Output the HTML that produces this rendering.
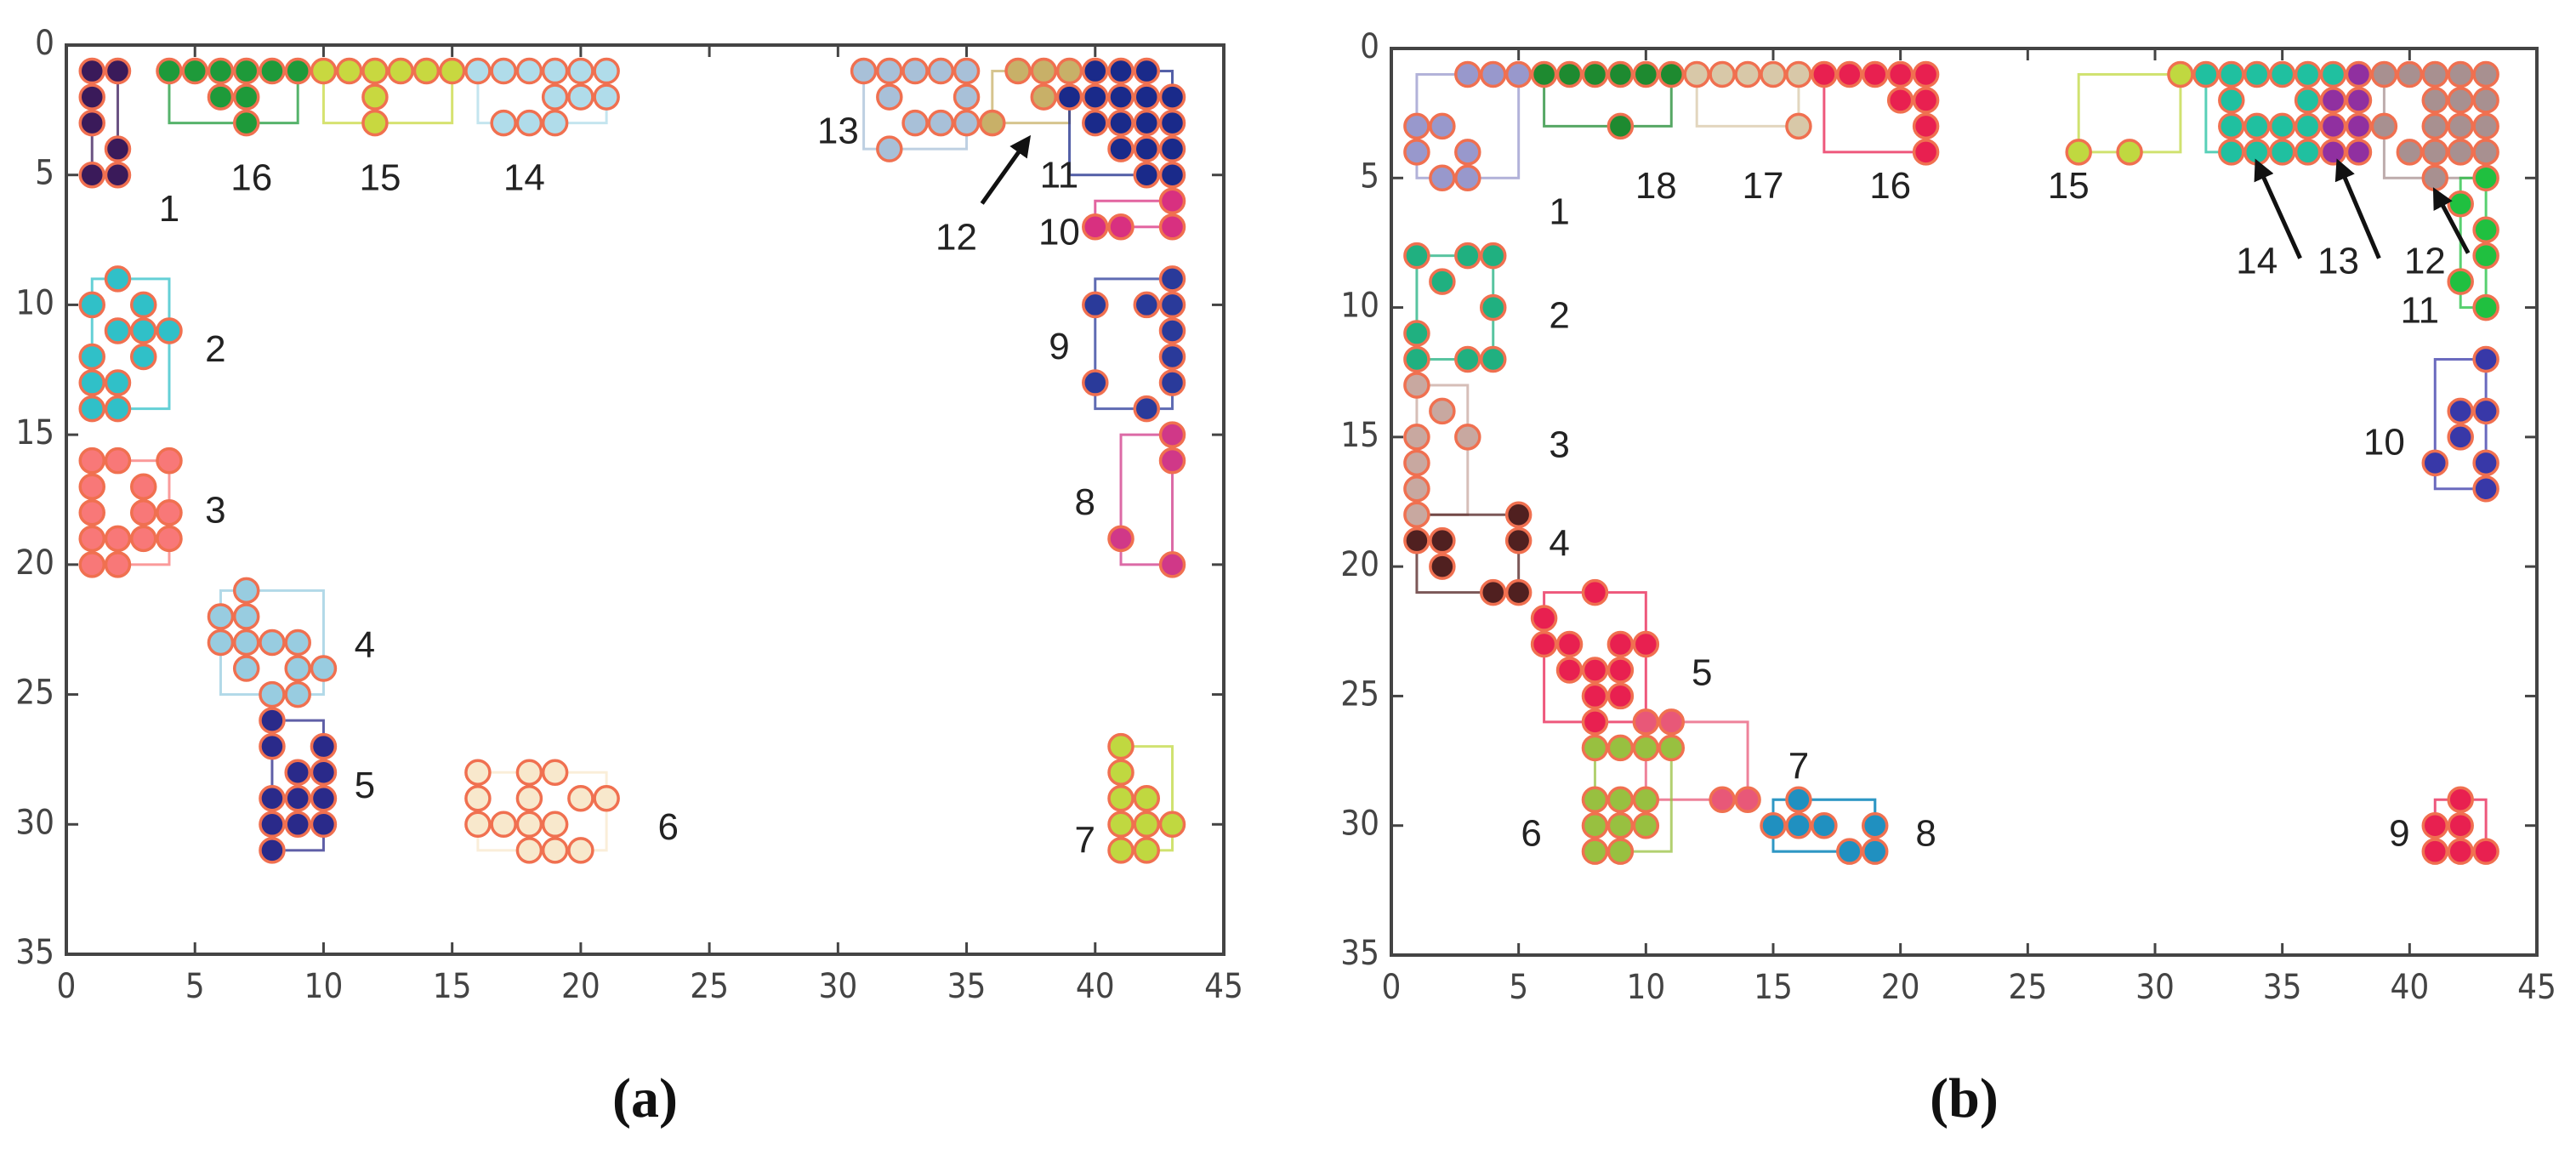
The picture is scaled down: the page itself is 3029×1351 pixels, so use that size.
<!DOCTYPE html>
<html><head><meta charset="utf-8"><style>
body{margin:0;background:#fff;}
svg{display:block;}
.tick{font-family:"DejaVu Sans Condensed","Liberation Sans",sans-serif;font-size:40px;fill:#444;}
.lab{font-family:"Liberation Sans",sans-serif;font-size:44px;fill:#222;}
.cap{font-family:"Liberation Serif",serif;font-size:66px;font-weight:bold;fill:#111;}
</style></head><body>
<svg id="chart" width="3029" height="1351" viewBox="0 0 3029 1351" xmlns="http://www.w3.org/2000/svg"></svg>
<script>
// ---- Panel (a) data ----
const aLabels=["1","16","15","14","13","12","11","10","9","8","7","2","3","4","5","6"];
const aColors=["#3a1a5a","#1e9a3a","#c8d840","#b0dcea","#a8c0d8","#c8b068","#1a2a8a","#d83080","#2a3a9a","#d03888","#c0d840","#30c0c8","#f87878","#98cce0","#2a2a8a","#f8e8cc"];
const aPoints=[
[[1,1],[2,1],[1,2],[1,3],[2,4],[1,5],[2,5]],
[[4,1],[5,1],[6,1],[7,1],[8,1],[9,1],[6,2],[7,2],[7,3]],
[[10,1],[11,1],[12,1],[13,1],[14,1],[15,1],[12,2],[12,3]],
[[16,1],[17,1],[18,1],[19,1],[20,1],[21,1],[19,2],[20,2],[21,2],[17,3],[18,3],[19,3]],
[[31,1],[32,1],[33,1],[34,1],[35,1],[32,2],[35,2],[33,3],[34,3],[35,3],[32,4]],
[[37,1],[38,1],[39,1],[38,2],[36,3]],
[[40,1],[41,1],[42,1],[39,2],[40,2],[41,2],[42,2],[43,2],[40,3],[41,3],[42,3],[43,3],[41,4],[42,4],[43,4],[42,5],[43,5]],
[[43,6],[40,7],[41,7],[43,7]],
[[43,9],[40,10],[42,10],[43,10],[43,11],[43,12],[40,13],[43,13],[42,14]],
[[43,15],[43,16],[41,19],[43,20]],
[[41,27],[41,28],[41,29],[42,29],[41,30],[42,30],[43,30],[41,31],[42,31]],
[[2,9],[1,10],[3,10],[2,11],[3,11],[4,11],[1,12],[3,12],[1,13],[2,13],[1,14],[2,14]],
[[1,16],[2,16],[4,16],[1,17],[3,17],[1,18],[3,18],[4,18],[1,19],[2,19],[3,19],[4,19],[1,20],[2,20]],
[[7,21],[6,22],[7,22],[6,23],[7,23],[8,23],[9,23],[7,24],[9,24],[10,24],[8,25],[9,25]],
[[8,26],[8,27],[10,27],[9,28],[10,28],[8,29],[9,29],[10,29],[8,30],[9,30],[10,30],[8,31]],
[[16,28],[18,28],[19,28],[16,29],[18,29],[20,29],[21,29],[16,30],[17,30],[18,30],[19,30],[18,31],[19,31],[20,31]]];
const aBoxes=[[1,2,1,5],[4,9,1,3],[10,15,1,3],[16,21,1,3],[31,35,1,4],[36,39,1,3],[39,43,1,5],[40,43,6,7],[40,43,9,14],[41,43,15,20],[41,43,27,31],[1,4,9,14],[1,4,16,20],[6,10,21,25],[8,10,26,31],[16,21,28,31]];
const aLabelPos=[[4,6.4],[7.2,5.2],[12.2,5.2],[17.8,5.2],[30,3.4],[34.6,7.5],[38.6,5.1],[38.6,7.3],[38.6,11.7],[39.6,17.7],[39.6,30.7],[5.8,11.8],[5.8,18],[11.6,23.2],[11.6,28.6],[23.4,30.2]];
const aArrows=[[35.6,6.1],[37.4,3.6]];
// ---- Panel (b) data ----
const bLabels=["1","18","17","16","15","14","13","12","11","10","9","2","3","4","5","","6","7","8"];
const bColors=["#9898cc","#1e8a30","#d8c8a8","#e82050","#c0d840","#20c0a0","#9030a0","#a89090","#20c040","#3838a8","#e82050","#20b080","#c8a8a0","#502020","#e82050","#e85878","#98c040","#2090c0","#2090c0"];
const bPoints=[
[[3,1],[4,1],[5,1],[1,3],[2,3],[1,4],[3,4],[2,5],[3,5]],
[[6,1],[7,1],[8,1],[9,1],[10,1],[11,1],[9,3]],
[[12,1],[13,1],[14,1],[15,1],[16,1],[16,3]],
[[17,1],[18,1],[19,1],[20,1],[21,1],[20,2],[21,2],[21,3],[21,4]],
[[31,1],[27,4],[29,4]],
[[32,1],[33,1],[34,1],[35,1],[36,1],[37,1],[33,2],[36,2],[33,3],[34,3],[35,3],[36,3],[33,4],[34,4],[35,4],[36,4]],
[[38,1],[37,2],[38,2],[37,3],[38,3],[37,4],[38,4]],
[[39,1],[40,1],[41,1],[42,1],[43,1],[41,2],[42,2],[43,2],[39,3],[41,3],[42,3],[43,3],[40,4],[41,4],[42,4],[43,4],[41,5]],
[[43,5],[42,6],[43,7],[43,8],[42,9],[43,10]],
[[43,12],[42,14],[43,14],[42,15],[41,16],[43,16],[43,17]],
[[42,29],[41,30],[42,30],[41,31],[42,31],[43,31]],
[[1,8],[3,8],[4,8],[2,9],[4,10],[1,11],[1,12],[3,12],[4,12]],
[[1,13],[2,14],[1,15],[3,15],[1,16],[1,17],[1,18]],
[[5,18],[1,19],[2,19],[5,19],[2,20],[4,21],[5,21]],
[[8,21],[6,22],[6,23],[7,23],[9,23],[10,23],[7,24],[8,24],[9,24],[8,25],[9,25],[8,26]],
[[10,26],[11,26],[13,29],[14,29]],
[[8,27],[9,27],[10,27],[11,27],[8,29],[9,29],[10,29],[8,30],[9,30],[10,30],[8,31],[9,31]],
[[16,29],[15,30],[16,30],[17,30]],
[[19,30],[18,31],[19,31]]];
const bBoxes=[[1,5,1,5],[6,11,1,3],[12,16,1,3],[17,21,1,4],[27,31,1,4],[32,36,1,4],[37,38,1,4],[39,43,1,5],[42,43,5,10],[41,43,12,17],[41,43,29,31],[1,4,8,12],[1,3,13,18],[1,5,18,21],[6,10,21,26],[10,14,26,29],[8,11,27,31],[15,19,29,31],[15,19,29,31]];
const bLabelPos=[[6.6,6.4],[10.4,5.4],[14.6,5.4],[19.6,5.4],[26.6,5.4],[34,8.3],[37.2,8.3],[40.6,8.3],[40.4,10.2],[39,15.3],[39.6,30.4],[6.6,10.4],[6.6,15.4],[6.6,19.2],[12.2,24.2],[0,0],[5.5,30.4],[16,27.8],[21,30.4]];
const bArrows=[[35.7,8.1],[34,4.4],[38.8,8.1],[37.2,4.4],[42.3,7.9],[41,5.5]];
const xTicks=[0,5,10,15,20,25,30,35,40,45];
const yTicks=[0,5,10,15,20,25,30,35];

const NS="http://www.w3.org/2000/svg";
const svg=document.getElementById('chart');
function mk(tag,attrs,parent){const e=document.createElementNS(NS,tag);for(const k in attrs)e.setAttribute(k,attrs[k]);(parent||svg).appendChild(e);return e;}
const defs=mk('defs',{});
const mrk=mk('marker',{id:'ah',viewBox:'0 0 10 10',refX:'8',refY:'5',markerWidth:'5',markerHeight:'5',orient:'auto'},defs);
mk('path',{d:'M0,0 L10,5 L0,10 z',fill:'#111'},mrk);

function panel(P){
  const sx=v=>P.x0+(v/45)*(P.x1-P.x0);
  const sy=v=>P.y0+(v/35)*(P.y1-P.y0);
  const g=mk('g',{});
  
  
  // boxes
  P.boxes.forEach((b,i)=>{
    const r=mk('rect',{x:sx(b[0]),y:sy(b[2]),width:sx(b[1])-sx(b[0]),height:sy(b[3])-sy(b[2]),fill:'none',stroke:P.colors[i],'stroke-width':3,opacity:0.75},g);
    
    
  });
  // points
  P.points.forEach((pts,i)=>{
    pts.forEach(p=>{
      const c=mk('circle',{cx:sx(p[0]),cy:sy(p[1]),r:14,fill:P.colors[i],stroke:'#f07050','stroke-width':3.5},g);
      
      
    });
  });
  // labels
  P.labelPos.forEach((lp,i)=>{
    if(!P.labels[i])return;
    const t=mk('text',{x:sx(lp[0]),y:sy(lp[1]),'text-anchor':'middle','dominant-baseline':'middle',class:'lab'},g);
    t.textContent=P.labels[i];
    
    
  });
  for(let k=0;k<P.arrows.length;k+=2){
    const a=mk('line',{x1:sx(P.arrows[k][0]),y1:sy(P.arrows[k][1]),x2:sx(P.arrows[k+1][0]),y2:sy(P.arrows[k+1][1]),stroke:'#111','stroke-width':5,'marker-end':'url(#ah)'},g);
    
    
  }
  // axes frame
  const f=mk('rect',{x:P.x0,y:P.y0,width:P.x1-P.x0,height:P.y1-P.y0,fill:'none',stroke:'#444','stroke-width':4},g);
  
  
  xTicks.forEach(v=>{
    mk('line',{x1:sx(v),x2:sx(v),y1:P.y1,y2:P.y1-14,stroke:'#444','stroke-width':3},g);
    mk('line',{x1:sx(v),x2:sx(v),y1:P.y0,y2:P.y0+14,stroke:'#444','stroke-width':3},g);
    const t=mk('text',{x:sx(v),y:P.y1+40,'text-anchor':'middle','dominant-baseline':'middle',class:'tick'},g);
    t.textContent=v;
    
    
  });
  yTicks.forEach(v=>{
    mk('line',{x1:P.x0,x2:P.x0+14,y1:sy(v),y2:sy(v),stroke:'#444','stroke-width':3},g);
    mk('line',{x1:P.x1,x2:P.x1-14,y1:sy(v),y2:sy(v),stroke:'#444','stroke-width':3},g);
    const t=mk('text',{x:P.x0-14,y:sy(v),'text-anchor':'end','dominant-baseline':'middle',class:'tick'},g);
    t.textContent=v;
    
    
  });
  const c=mk('text',{x:(P.x0+P.x1)/2,y:1298,'text-anchor':'middle','dominant-baseline':'middle',class:'cap'},g);
  c.textContent=P.caption;
  
  
}
panel({name:'panel-a',x0:78,x1:1439,y0:53,y1:1122,labels:aLabels,colors:aColors,points:aPoints,boxes:aBoxes,labelPos:aLabelPos,arrows:aArrows,caption:'(a)'});
panel({name:'panel-b',x0:1636,x1:2983,y0:57,y1:1123,labels:bLabels,colors:bColors,points:bPoints,boxes:bBoxes,labelPos:bLabelPos,arrows:bArrows,caption:'(b)'});
</script>
</body></html>
